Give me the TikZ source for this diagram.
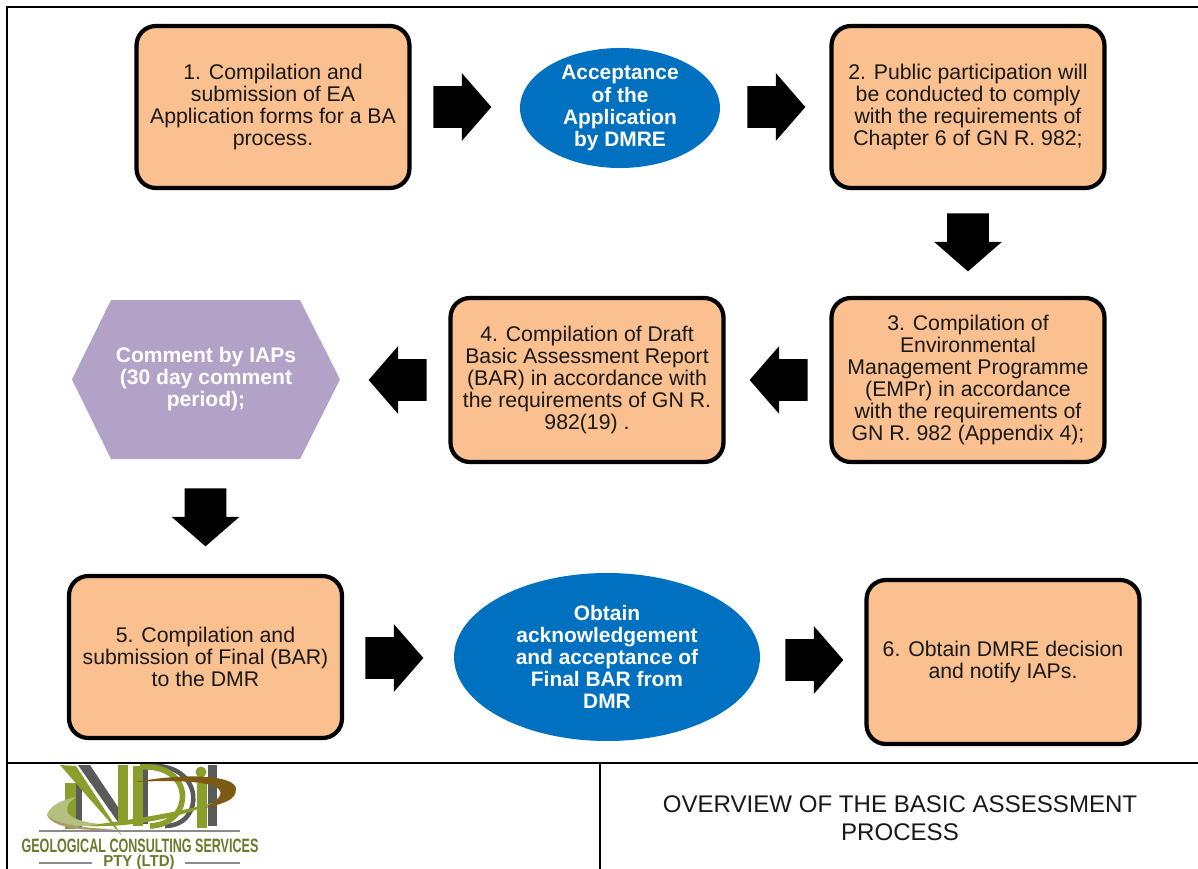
\documentclass[tikz,border=0pt]{standalone}
\usepackage{fontspec}
\setmainfont{Liberation Sans}
\usetikzlibrary{shapes.geometric,shapes.arrows}
\definecolor{boxfill}{HTML}{FAC090}
\definecolor{ovalblue}{HTML}{0070C0}
\definecolor{hexpurple}{HTML}{B3A2C7}
\definecolor{logogreen}{HTML}{8A9F2B}
\definecolor{logodark}{HTML}{6A7A2A}
\definecolor{logobrown}{HTML}{7A5A14}
\definecolor{logotan}{HTML}{B09A68}
\definecolor{logopale}{HTML}{B4C080}
\definecolor{logogrey}{HTML}{5A5A5A}
\tikzset{
  stepbox/.style={draw=black,line width=2.4pt,rounded corners=11pt,fill=boxfill,
    minimum width=5.46cm,minimum height=3.24cm,align=center,inner sep=0pt,
    font=\fontsize{12.1}{12.55}\selectfont,text=black!90},
  oval/.style={ellipse,fill=ovalblue,align=center,inner sep=0pt,text=white,
    font=\fontsize{11.9}{12.55}\selectfont\bfseries},
  blockarrow/.style={single arrow,fill=black,inner xsep=0pt,inner ysep=0.41cm,minimum height=1.16cm,
    minimum width=1.34cm,single arrow head extend=0.26cm,single arrow head indent=0pt,
    single arrow tip angle=98,anchor=tail},
  rule/.style={line width=1.1pt},
}
\begin{document}
\begin{tikzpicture}[x=0.02cm,y=-0.02cm]
    \useasboundingbox (0,0) rectangle (1198,869);
    % frame
    \draw[rule] (1198,7)--(7,7)--(7,869);
    \draw[rule] (7,763)--(1198,763);
    \draw[rule] (600,763)--(600,869);

    % top row
    \node[stepbox] (s1) at (273,107) {1. Compilation and\\submission of EA\\Application forms for a BA\\process.};
    \node[oval,minimum width=4cm,minimum height=2.32cm] (acc) at (620,108) {Acceptance\\of the\\Application\\by DMRE};
    \node[stepbox] (s2) at (968,107) {2. Public participation will\\be conducted to comply\\with the requirements of\\Chapter 6 of GN R. 982;};

    % middle row
    \node[stepbox,minimum height=3.28cm] (s3) at (968,380) {3. Compilation of\\Environmental\\Management Programme\\(EMPr) in accordance\\with the requirements of\\GN R. 982 (Appendix 4);};
    \node[stepbox,minimum height=3.28cm] (s4) at (587,380) {4. Compilation of Draft\\Basic Assessment Report\\(BAR) in accordance with\\the requirements of GN R.\\982(19) .};
    \fill[hexpurple] (72,379.5)--(111,300)--(300,300)--(340,379.5)--(300,459)--(111,459)--cycle;
    \node[align=center,text=white,font=\fontsize{12}{12.55}\selectfont\bfseries] (iap) at (206,379) {Comment by IAPs\\(30 day comment\\period);};

    % bottom row
    \node[stepbox] (s5) at (205.5,657) {5. Compilation and\\submission of Final (BAR)\\to the DMR};
    \node[oval,minimum width=6.12cm,minimum height=3.36cm] (ack) at (607,657) {Obtain\\acknowledgement\\and acceptance of\\Final BAR from\\DMR};
    \node[stepbox,minimum height=3.28cm] (s6) at (1003,662) {6. Obtain DMRE decision\\and notify IAPs.};

    % block arrows
    \node[blockarrow] (a1) at (433,107) {};
    \node[blockarrow] (a2) at (747,107) {};
    \node[blockarrow,rotate=-90] (a3) at (968,213) {};
    \node[blockarrow,rotate=180] (a4) at (808,380) {};
    \node[blockarrow,rotate=180] (a5) at (427,380) {};
    \node[blockarrow,rotate=-90] (a6) at (205.5,488) {};
    \node[blockarrow] (a7) at (365,658) {};
    \node[blockarrow] (a8) at (785,660) {};

    % title
    \node[align=center,font=\fontsize{13.7}{16.2}\selectfont,text=black!90] (title) at (900,818) {OVERVIEW OF THE BASIC ASSESSMENT\\PROCESS};

    % logo
    \fill[logogrey] (75,783)--(82,783)--(82,828)--(75,828)--cycle;
    \fill[logogrey] (78,765)--(90,765)--(128,822)--(118,822)--cycle;
    \fill[logogreen] (65,783)--(76,783)--(76,829)--(65,829)--cycle;
    \fill[logogreen] (118,765)--(128,765)--(128,822)--(118,822)--cycle;
    \fill[logogreen] (60,765)--(76,766)--(122,836)--cycle;
    \fill[logogrey] (143,766)--(148,766)--(148,824)--(143,824)--cycle;
    \fill[logogreen] (133,766)--(143,766)--(143,826)--(133,826)--cycle;
    \draw[logogrey,line width=2.6pt] (150,766) .. controls (205,763) and (205,826) .. (165,826);
    \draw[logogreen,line width=3.2pt] (140,767) .. controls (195,763) and (195,824) .. (150,826);
    \fill[logogrey] (208,765)--(217,765)--(217,826)--(208,826)--cycle;
    \fill[logogreen] (197,783)--(207,783)--(207,828)--(197,828)--cycle;
    \fill[logogreen] (201,772) circle (5.5);
    \fill[logopale] (47,815) .. controls (50,805) and (62,800) .. (76,797) .. controls (62,806) and (60,820) .. (100,824) .. controls (80,828) and (52,826) .. (47,815)--cycle;
    \fill[logotan] (47,815) .. controls (52,828) and (85,832) .. (118,829) .. controls (85,829) and (55,824) .. (47,815)--cycle;
    \fill[logogreen] (85,826) .. controls (130,828) and (180,818) .. (216,802) .. controls (180,812) and (130,820) .. (85,826)--cycle;
    \fill[logobrown] (135,782) .. controls (190,772) and (236,776) .. (236,789) .. controls (236,800) and (225,803) .. (205,808) .. controls (222,798) and (224,792) .. (216,787) .. controls (204,781) and (170,780) .. (135,782)--cycle;
    \draw[logogrey!70,line width=1.3pt] (39,831)--(240,831);
    \node[text=logodark,inner sep=0pt,font=\fontsize{11}{12}\selectfont\bfseries,anchor=base] (logotext) at (140,852) {\addfontfeature{FakeStretch=0.65}GEOLOGICAL CONSULTING SERVICES};
    \node[text=logodark,inner sep=0pt,font=\fontsize{9}{10}\selectfont\bfseries,anchor=base] (logopty) at (139,866) {\addfontfeature{FakeStretch=0.95}PTY (LTD)};
    \draw[logogrey!70,line width=1.3pt] (39,863)--(92,863);
    \draw[logogrey!70,line width=1.3pt] (185,863)--(240,863);
\end{tikzpicture}
\end{document}
